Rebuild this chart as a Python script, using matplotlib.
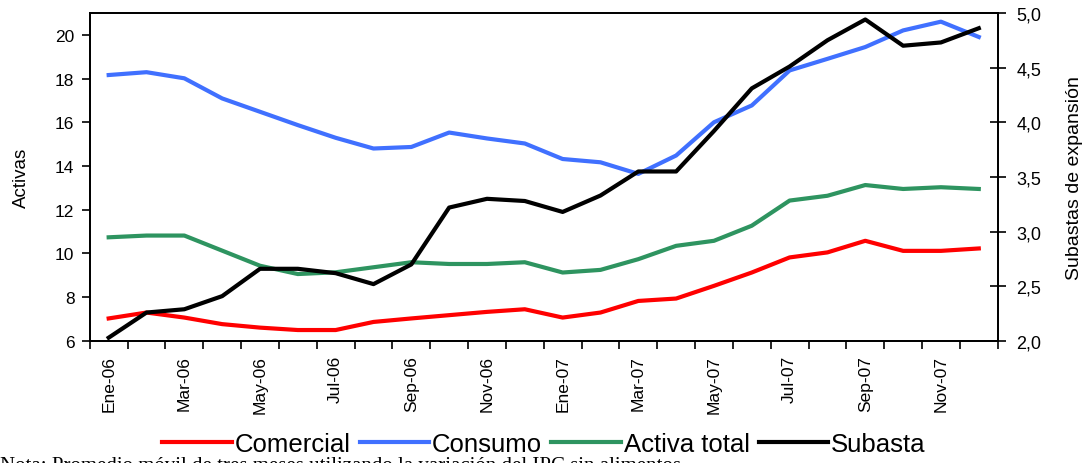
import matplotlib
matplotlib.use("Agg")
import matplotlib.pyplot as plt
import numpy as np

months = ["Ene-06", "Feb-06", "Mar-06", "Abr-06", "May-06", "Jun-06", "Jul-06", "Ago-06",
          "Sep-06", "Oct-06", "Nov-06", "Dic-06", "Ene-07", "Feb-07", "Mar-07", "Abr-07",
          "May-07", "Jun-07", "Jul-07", "Ago-07", "Sep-07", "Oct-07", "Nov-07", "Dic-07"]

comercial = [7.03, 7.30, 7.07, 6.77, 6.61, 6.50, 6.50, 6.87, 7.03, 7.18, 7.33, 7.45,
             7.07, 7.30, 7.83, 7.94, 8.52, 9.13, 9.82, 10.05, 10.58, 10.12, 10.12, 10.23]
consumo = [18.16, 18.29, 18.01, 17.09, 16.48, 15.87, 15.29, 14.80, 14.87, 15.53, 15.26, 15.03,
           14.32, 14.17, 13.64, 14.48, 16.00, 16.77, 18.37, 18.90, 19.44, 20.20, 20.60, 19.90]
activa_total = [10.74, 10.82, 10.82, 10.13, 9.44, 9.06, 9.14, 9.37, 9.60, 9.52, 9.52, 9.60,
                9.13, 9.25, 9.74, 10.35, 10.58, 11.27, 12.42, 12.64, 13.13, 12.95, 13.03, 12.95]
subasta = [2.03, 2.26, 2.29, 2.41, 2.66, 2.66, 2.62, 2.52, 2.70, 3.22, 3.30, 3.28,
           3.18, 3.33, 3.55, 3.55, 3.92, 4.31, 4.51, 4.75, 4.94, 4.70, 4.73, 4.86]

left_ticks = [6, 8, 10, 12, 14, 16, 18, 20]
right_ticks = [2.0, 2.5, 3.0, 3.5, 4.0, 4.5, 5.0]

plt.rcParams["font.family"] = ["Liberation Sans", "DejaVu Sans"]

fig = plt.figure(figsize=(10.88, 4.64), dpi=100)
ax = fig.add_axes([0.0825, 0.263, 0.8345, 0.707])
ax2 = ax.twinx()

x = np.arange(len(months))
lw = 3.0
l1, = ax.plot(x, comercial, color="#ff0000", lw=lw, label="Comercial")
l2, = ax.plot(x, consumo, color="#4070ff", lw=lw, label="Consumo")
l3, = ax.plot(x, activa_total, color="#2e9460", lw=lw, label="Activa total")
l4, = ax2.plot(x, subasta, color="black", lw=lw, label="Subasta")

ax.set_xlim(-0.5, len(months) - 0.5)
ax.set_ylim(6, 21)
ax2.set_ylim(2, 5)

ax.set_xticks(x[::2])
ax.set_xticklabels(months[::2], rotation=90, fontsize=12.5)
ax.set_xticks(np.arange(-0.5, len(months), 1), minor=True)
ax.tick_params(axis="x", which="major", length=0, pad=10)
ax.tick_params(axis="x", which="minor", length=6, width=1.2, direction="out")

ax.set_yticks(left_ticks)
ax.tick_params(axis="y", length=6, width=1.2, direction="out", labelsize=12.5, pad=5)
ax.set_ylabel("Activas", fontsize=13.5, labelpad=18)

ax2.set_yticks(right_ticks)
ax2.set_yticklabels([f"{v:.1f}".replace(".", ",") for v in right_ticks], fontsize=13)
ax2.tick_params(axis="y", length=11, width=1.2, direction="inout", pad=8)
ax2.set_ylabel("Subastas de expansión", fontsize=14, labelpad=18)

for a in (ax, ax2):
    for s in a.spines.values():
        s.set_linewidth(1.3)

fig.legend(handles=[l1, l2, l3, l4], loc="center", bbox_to_anchor=(0.5, 1 - 445 / 464),
           ncol=4, frameon=False, fontsize=18.5, handlelength=2.7, handletextpad=0.12,
           columnspacing=0.35, borderpad=0.0)

fig.text(0.0, 1 - 457 / 464, "Nota: Promedio móvil de tres meses utilizando la variación del IPC sin alimentos",
         fontsize=15, family=["Liberation Serif", "DejaVu Serif"], ha="left", va="top")

fig.savefig("out.png", dpi=100)
